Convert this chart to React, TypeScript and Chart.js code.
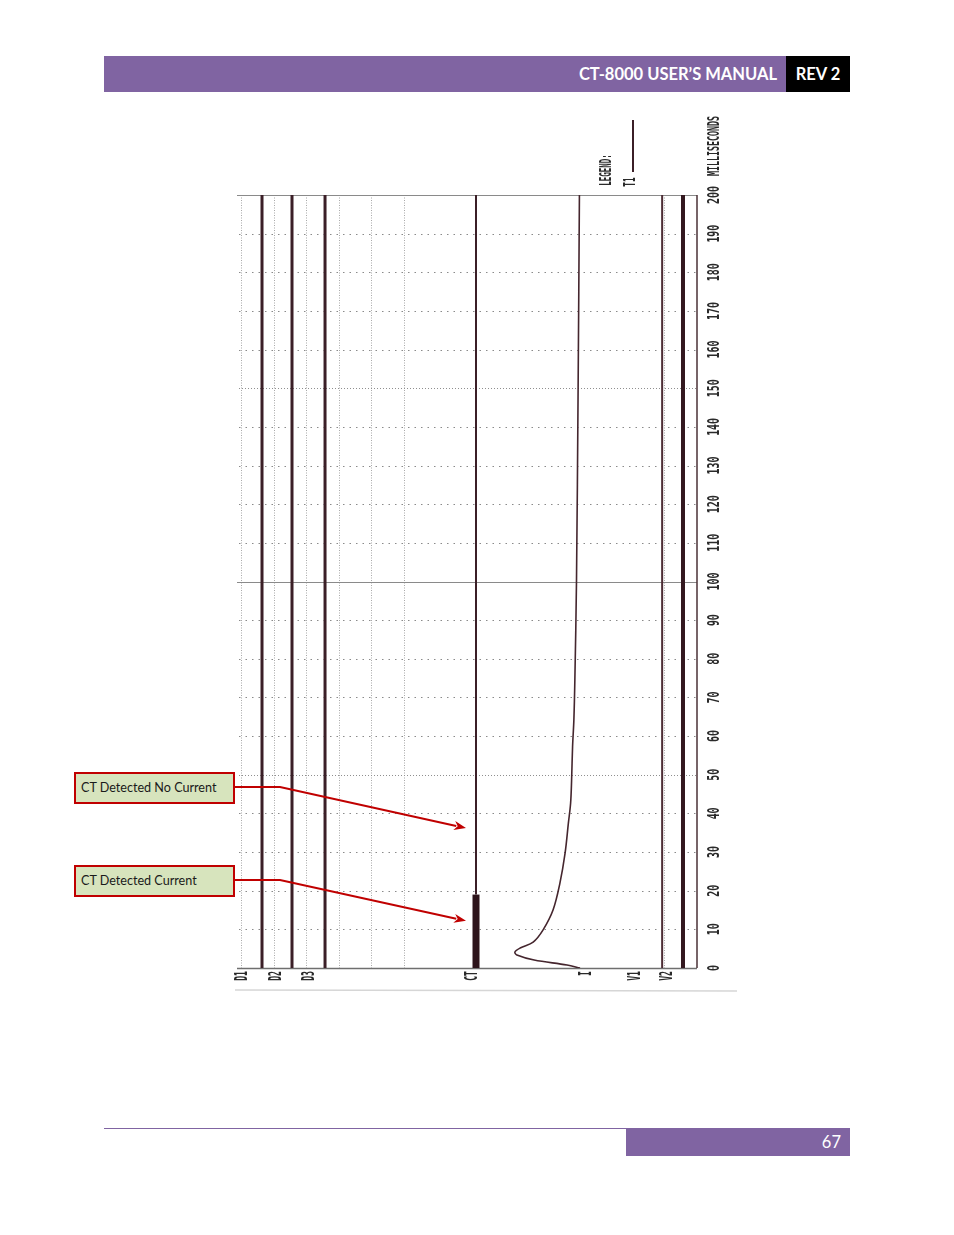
import React, { useEffect, useRef } from "react";
import { Chart, registerables } from "chart.js";

Chart.register(...registerables);

// ---- data ----
const TIME_TICKS = [0, 10, 20, 30, 40, 50, 60, 70, 80, 90, 100, 110, 120, 130, 140, 150, 160, 170, 180, 190, 200];
const TICK_LABELS = ["0", "10", "20", "30", "40", "50", "60", "70", "80", "90", "100", "110", "120", "130", "140", "150", "160", "170", "180", "190", "200"];
const CHANNEL_NAMES = ["D1", "D2", "D3", "CT", "I", "V1", "V2"];
const CHANNEL_LABEL_X = [0.06, 1.1, 2.12, 7.12, 10.62, 12.1, 13.11];
const GRID_X = [0, 1, 2, 3, 4, 5, 13];

const FULL_SPAN = [0, 200];
const D1_X = [0.645, 0.645];
const D2_X = [1.566, 1.566];
const D3_X = [2.58, 2.58];
const V1_X = [12.93, 12.93];
const V2_X = [13.57, 13.57];
const CT_THIN_T = [19, 200];
const CT_THICK_T = [0, 19];
const CT_X = [7.215, 7.215];

const I_TIME = [0, 0.78, 2.07, 3.36, 4.14, 5.17, 6.7, 9.8, 15, 21.9, 29.7, 37.4, 42.7, 48.6, 57.3, 64.2, 74.5, 100, 150, 200];
const I_X = [10.41, 10.01, 9.0, 8.47, 8.41, 8.57, 8.97, 9.27, 9.58, 9.79, 9.95, 10.05, 10.12, 10.15, 10.18, 10.22, 10.25, 10.3, 10.35, 10.39];

const ARROW_TIMES = [36.2, 12.2];
const ANNOTATIONS = ["CT Detected No Current", "CT Detected Current"];

const X_MIN = 0;
const X_MAX = 14;
const T_MIN = 0;
const T_MAX = 200;

const TRACE = "#3b1f27";

function pts(xs: number[], ts: number[]) {
  return ts.map((t, i) => ({ x: xs[i], y: t }));
}

function vText(ctx: CanvasRenderingContext2D, s: string, x: number, y: number, size: number, sx: number, align: CanvasTextAlign) {
  ctx.save();
  ctx.translate(x, y);
  ctx.rotate(-Math.PI / 2);
  ctx.scale(sx, 1);
  ctx.font = `bold ${size}px "DejaVu Sans Mono", monospace`;
  ctx.textAlign = align;
  ctx.textBaseline = "middle";
  ctx.fillText(s, 0, 0);
  ctx.restore();
}

const pagePlugin = {
  id: "pagePlugin",
  beforeDatasetsDraw(chart: any) {
    const { ctx } = chart;
    const x = chart.scales.x;
    const y = chart.scales.y;
    const top = y.getPixelForValue(T_MAX);
    const bot = y.getPixelForValue(T_MIN);
    const left = x.getPixelForValue(X_MIN);
    const right = x.getPixelForValue(X_MAX);
    ctx.save();
    // vertical dotted grid
    ctx.lineWidth = 1;
    ctx.strokeStyle = "#a9a9a9";
    ctx.setLineDash([1, 1.5]);
    GRID_X.forEach((v) => {
      const px = Math.round(x.getPixelForValue(v)) + 0.5;
      ctx.beginPath();
      ctx.moveTo(px, top);
      ctx.lineTo(px, bot);
      ctx.stroke();
    });
    // horizontal grid
    TIME_TICKS.forEach((t) => {
      const py = Math.round(y.getPixelForValue(t)) + 0.5;
      ctx.beginPath();
      if (t % 100 === 0) {
        ctx.setLineDash([]);
        ctx.strokeStyle = t === 0 ? "#6f6f6f" : "#8a8a8a";
        ctx.lineWidth = t === 0 ? 1.5 : 1;
        ctx.moveTo(left - 4, py);
      } else if (t % 50 === 0) {
        ctx.setLineDash([1, 2]);
        ctx.strokeStyle = "#8f8f8f";
        ctx.lineWidth = 1;
        ctx.moveTo(left - 2, py);
      } else {
        ctx.setLineDash([1.5, 5]);
        ctx.strokeStyle = "#8a8a8a";
        ctx.lineWidth = 1;
        ctx.moveTo(left - 2, py);
      }
      ctx.lineTo(right, py);
      ctx.stroke();
    });
    // right border
    ctx.setLineDash([]);
    ctx.strokeStyle = "#4a3036";
    ctx.lineWidth = 1.5;
    ctx.beginPath();
    ctx.moveTo(right, top);
    ctx.lineTo(right, bot);
    ctx.stroke();
    ctx.restore();
  },
  afterDatasetsDraw(chart: any) {
    const { ctx } = chart;
    const x = chart.scales.x;
    const y = chart.scales.y;
    const top = y.getPixelForValue(T_MAX);
    const bot = y.getPixelForValue(T_MIN);
    const left = x.getPixelForValue(X_MIN);
    const right = x.getPixelForValue(X_MAX);
    ctx.save();
    ctx.fillStyle = "#2a2a2a";
    // time tick labels
    TIME_TICKS.forEach((t, i) => {
      vText(ctx, TICK_LABELS[i], right + 18, y.getPixelForValue(t), 16, 0.62, "center");
    });
    vText(ctx, "MILLISECONDS", right + 18, top - 49, 16, 0.52, "center");
    // channel labels
    CHANNEL_NAMES.forEach((n, i) => {
      vText(ctx, n, x.getPixelForValue(CHANNEL_LABEL_X[i]), bot + 3, 17, 0.48, "right");
    });
    // legend
    vText(ctx, "LEGEND:", right - 90, top - 25, 15, 0.5, "center");
    vText(ctx, "T1", right - 66, top - 13, 15, 0.52, "center");
    ctx.strokeStyle = TRACE;
    ctx.lineWidth = 2;
    ctx.beginPath();
    ctx.moveTo(right - 64, top - 23);
    ctx.lineTo(right - 64, top - 75);
    ctx.stroke();
    // scan edge
    ctx.strokeStyle = "#d6d6d6";
    ctx.lineWidth = 1.5;
    ctx.beginPath();
    ctx.moveTo(left - 6, bot + 22);
    ctx.lineTo(right + 40, bot + 23);
    ctx.stroke();
    // annotation arrows
    const starts = [787, 880];
    ctx.strokeStyle = "#c00000";
    ctx.fillStyle = "#c00000";
    ctx.lineWidth = 2;
    ARROW_TIMES.forEach((t, i) => {
      const sy = starts[i];
      const tipX = x.getPixelForValue(CT_X[0]) - 10;
      const tipY = y.getPixelForValue(t);
      const kx = 280;
      ctx.beginPath();
      ctx.moveTo(235, sy);
      ctx.lineTo(kx, sy);
      const ang = Math.atan2(tipY - sy, tipX - kx);
      const bx = tipX - 10 * Math.cos(ang);
      const by = tipY - 10 * Math.sin(ang);
      ctx.lineTo(bx, by);
      ctx.stroke();
      ctx.beginPath();
      ctx.moveTo(tipX, tipY);
      ctx.lineTo(bx - 2 * Math.cos(ang) + 4.5 * Math.sin(ang), by - 2 * Math.sin(ang) - 4.5 * Math.cos(ang));
      ctx.lineTo(bx + 1.5 * Math.cos(ang), by + 1.5 * Math.sin(ang));
      ctx.lineTo(bx - 2 * Math.cos(ang) - 4.5 * Math.sin(ang), by - 2 * Math.sin(ang) + 4.5 * Math.cos(ang));
      ctx.closePath();
      ctx.fill();
    });
    ctx.restore();
  },
};

function line(data: { x: number; y: number }[], width: number, color = TRACE) {
  return {
    data,
    showLine: true,
    borderColor: color,
    borderWidth: width,
    pointRadius: 0,
    borderCapStyle: "butt",
    tension: 0,
    fill: false,
  };
}

export default function App() {
  const ref = useRef<HTMLCanvasElement | null>(null);
  useEffect(() => {
    if (!ref.current) return;
    const iTrace: any = line(pts(I_X, I_TIME), 1.6, "#45262e");
    iTrace.tension = 0.35;
    const chart = new Chart(ref.current, {
      type: "scatter",
      data: {
        datasets: [
          line(pts(D1_X, FULL_SPAN), 3),
          line(pts(D2_X, FULL_SPAN), 3),
          line(pts(D3_X, FULL_SPAN), 3),
          line(pts(CT_X, CT_THIN_T), 2),
          line(pts(CT_X, CT_THICK_T), 7, "#2e141b"),
          iTrace,
          line(pts(V1_X, FULL_SPAN), 2, "#4c2c34"),
          line(pts(V2_X, FULL_SPAN), 4, "#33181f"),
        ] as any,
      },
      options: {
        responsive: false,
        animation: false,
        devicePixelRatio: 1,
        layout: { padding: { left: 241, right: 257, top: 195, bottom: 267 } },
        plugins: { legend: { display: false }, tooltip: { enabled: false } },
        events: [],
        scales: {
          x: { type: "linear", min: X_MIN, max: X_MAX, display: false },
          y: { type: "linear", min: T_MIN, max: T_MAX, display: false },
        },
      },
      plugins: [pagePlugin],
    });
    return () => chart.destroy();
  }, []);

  const boxStyle = (top: number): React.CSSProperties => ({
    position: "absolute",
    left: 74,
    top,
    width: 161,
    height: 32,
    boxSizing: "border-box",
    border: "2px solid #c00000",
    background: "#d7e4bd",
    fontFamily: "Lato, 'Open Sans', sans-serif",
    fontSize: 12.6,
    color: "#1a1a1a",
    paddingLeft: 5,
    lineHeight: "28px",
    whiteSpace: "nowrap",
    zIndex: 2,
  });

  return (
    <div style={{ position: "absolute", left: 0, top: 0, width: 954, height: 1235, background: "#fff", overflow: "hidden" }}>
      <div style={{ position: "absolute", left: 104, top: 56, width: 682, height: 36, background: "#8064a2" }} />
      <div style={{ position: "absolute", left: 786, top: 56, width: 64, height: 36, background: "#000" }} />
      <div
        style={{
          position: "absolute",
          right: 954 - 777,
          top: 56,
          height: 36,
          lineHeight: "36px",
          color: "#fff",
          fontFamily: "Lato, sans-serif",
          fontWeight: 700,
          fontSize: 16.5,
          whiteSpace: "nowrap",
        }}
      >
        CT-8000 USER’S MANUAL
      </div>
      <div
        style={{
          position: "absolute",
          left: 786,
          width: 64,
          top: 56,
          height: 36,
          lineHeight: "36px",
          textAlign: "center",
          color: "#fff",
          fontFamily: "Lato, sans-serif",
          fontWeight: 700,
          fontSize: 16.5,
        }}
      >
        REV 2
      </div>
      <canvas ref={ref} width={954} height={1235} style={{ position: "absolute", left: 0, top: 0, width: 954, height: 1235, zIndex: 1 }} />
      <div style={boxStyle(772)}>{ANNOTATIONS[0]}</div>
      <div style={boxStyle(865)}>{ANNOTATIONS[1]}</div>
      <div style={{ position: "absolute", left: 104, top: 1128, width: 522, height: 1, background: "#8064a2" }} />
      <div
        style={{
          position: "absolute",
          left: 626,
          top: 1128,
          width: 224,
          height: 28,
          background: "#8064a2",
          color: "#fff",
          fontFamily: "Lato, sans-serif",
          fontSize: 16.5,
          lineHeight: "28px",
          textAlign: "right",
          boxSizing: "border-box",
          paddingRight: 9,
        }}
      >
        67
      </div>
    </div>
  );
}
